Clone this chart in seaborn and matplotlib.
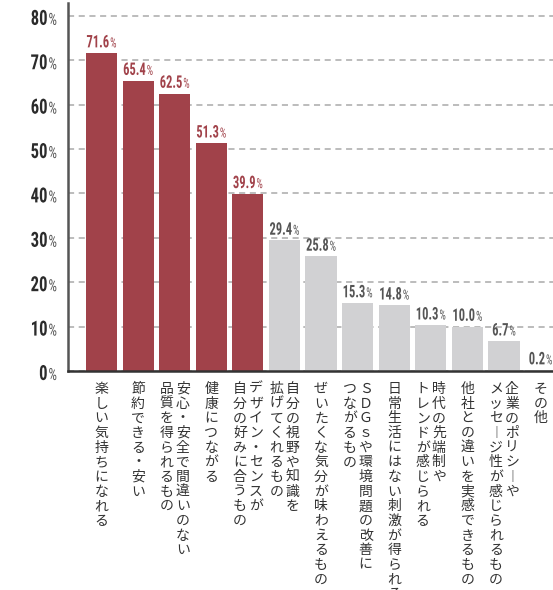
import matplotlib
matplotlib.use("Agg")
import matplotlib.pyplot as plt
import seaborn as sns
import pandas as pd
from matplotlib import font_manager as fm
from matplotlib.offsetbox import TextArea, HPacker, AnnotationBbox
from matplotlib.patheffects import AbstractPathEffect
from matplotlib.transforms import Affine2D

# Survey items (a line break starts the next vertical column, read right to left)
categories = [
    "楽しい気持ちになれる",
    "節約できる・安い",
    "安心・安全で間違いのない\n品質を得られるもの",
    "健康につながる",
    "デザイン・センスが\n自分の好みに合うもの",
    "自分の視野や知識を\n拡げてくれるもの",
    "ぜいたくな気分が味わえるもの",
    "ＳＤＧｓや環境問題の改善に\nつながるもの",
    "日常生活にはない刺激が得られる",
    "時代の先端制や\nトレンドが感じられる",
    "他社との違いを実感できるもの",
    "企業のポリシーや\nメッセージ性が感じられるもの",
    "その他",
]
values = [71.6, 65.4, 62.5, 51.3, 39.9, 29.4, 25.8, 15.3, 14.8, 10.3, 10.0, 6.7, 0.2]
top_n = 5
y_ticks = [0, 10, 20, 30, 40, 50, 60, 70, 80]

RED = "#A1424A"
GREY = "#D1D1D3"
RED_TXT = "#A1424A"
GREY_TXT = "#555555"
AX_TXT = "#2B2B2B"

sns.set_theme(style="white")
plt.rcParams["font.family"] = ["Noto Sans CJK JP", "DejaVu Sans"]

available = {f.name for f in fm.fontManager.ttflist}
NUM_FONT = next((n for n in ["Roboto Condensed", "Liberation Sans Narrow",
                             "Open Sans Condensed", "DejaVu Sans Condensed"]
                 if n in available), "DejaVu Sans")


class Squeeze(AbstractPathEffect):
    """Narrow the glyph outlines horizontally about a fixed display x."""

    def __init__(self, sx, anchor_fn):
        super().__init__()
        self.sx = sx
        self.anchor_fn = anchor_fn

    def draw_path(self, renderer, gc, tpath, affine, rgbFace=None):
        x0 = self.anchor_fn()
        aff = affine + Affine2D().translate(-x0, 0).scale(self.sx, 1).translate(x0, 0)
        renderer.draw_path(gc, tpath, aff, rgbFace)


W, H = 553, 590
DPI = 100
fig = plt.figure(figsize=(W / DPI, H / DPI), dpi=DPI)
ax = fig.add_axes([68 / W, 219 / H, 1 - 68 / W, 368 / H])

df = pd.DataFrame({"item": categories, "pct": values})
palette = {c: (RED if i < top_n else GREY) for i, c in enumerate(categories)}
sns.barplot(data=df, x="item", y="pct", hue="item", palette=palette,
            legend=False, width=0.85, saturation=1, linewidth=0, ax=ax, zorder=2)

ax.set_xlim(-0.915, 12.34)
ax.set_ylim(0, 82.9)
ax.set_yticks(y_ticks)
ax.yaxis.grid(True, linestyle=(0, (4, 3)), color="#AAAAAA", linewidth=1.1, zorder=0)
ax.xaxis.grid(False)
ax.set_axisbelow(True)
for side in ("top", "right"):
    ax.spines[side].set_visible(False)
ax.spines["left"].set_color("#555555")
ax.spines["left"].set_linewidth(1.8)
ax.spines["bottom"].set_color("#333333")
ax.spines["bottom"].set_linewidth(1.8)
ax.tick_params(length=0, labelleft=False, labelbottom=False)
ax.set_xlabel("")
ax.set_ylabel("")


def num_pct(num, size, pct_size, color, pct_color, sx, anchor_fn):
    pe = [Squeeze(sx, anchor_fn)]
    a = TextArea(num, textprops=dict(fontsize=size, fontweight="bold",
                                     family=[NUM_FONT, "DejaVu Sans"], color=color,
                                     path_effects=pe))
    b = TextArea("%", textprops=dict(fontsize=pct_size, family=[NUM_FONT, "DejaVu Sans"],
                                     color=pct_color, path_effects=pe))
    return HPacker(children=[a, b], align="baseline", pad=0, sep=0.8)


TICK_GAP = 8  # points between label and axis

# y-axis labels: bold figure followed by a small percent sign
for t in y_ticks:
    anchor = (lambda: ax.transAxes.transform((0, 0))[0] - TICK_GAP * DPI / 72)
    box = num_pct(f"{t}", 15, 12, AX_TXT, "#555555", 0.8, anchor)
    ab = AnnotationBbox(box, (0, t), xycoords=("axes fraction", "data"),
                        xybox=(-TICK_GAP, -2.5), boxcoords="offset points",
                        box_alignment=(1, 0.5), frameon=False, pad=0,
                        annotation_clip=False)
    ax.add_artist(ab)

# value labels above each bar
for i, v in enumerate(values):
    col = RED_TXT if i < top_n else GREY_TXT
    anchor = (lambda i=i, v=v: ax.transData.transform((i, v))[0])
    box = num_pct(f"{v:.1f}", 12.5, 10, col, col, 0.72, anchor)
    ab = AnnotationBbox(box, (i, v), xycoords="data",
                        xybox=(0, 2), boxcoords="offset points",
                        box_alignment=(0.5, 0), frameon=False, pad=0,
                        annotation_clip=False)
    ax.add_artist(ab)

# vertical category labels
VERT = {"ー": "︱"}
col_gap_pt = 16 * 0.72
for i, label in enumerate(categories):
    cols = label.split("\n")
    n = len(cols)
    for k, col in enumerate(cols):
        dx = ((n - 1) / 2 - k) * col_gap_pt
        txt = "\n".join(VERT.get(ch, ch) for ch in col)
        ax.annotate(txt, xy=(i, 0), xycoords=("data", "axes fraction"),
                    xytext=(dx, -11 * 0.72), textcoords="offset points",
                    ha="center", va="top", fontsize=10, linespacing=1.06,
                    color="#333333", annotation_clip=False)

fig.savefig("out.png", dpi=DPI)
